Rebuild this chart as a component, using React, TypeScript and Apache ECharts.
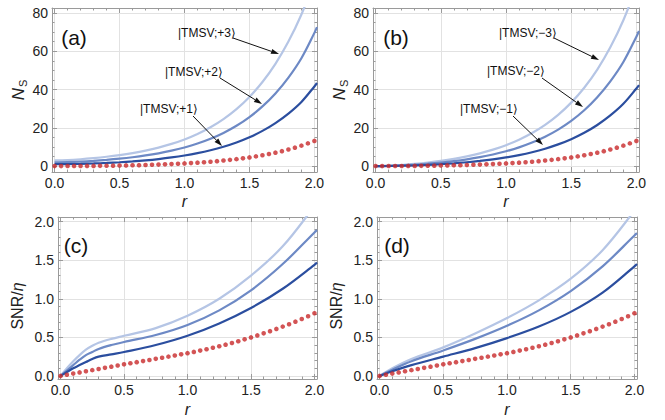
import React, { useEffect, useRef } from "react";
import * as echarts from "echarts";

// ---------- data ----------
const rLine = [0, 0.1, 0.2, 0.3, 0.4, 0.5, 0.6, 0.7, 0.8, 0.9, 1.0, 1.1, 1.2, 1.3, 1.4, 1.5, 1.6, 1.7, 1.8, 1.9, 2.0, 2.02];
const nsPlus1 = [1.0, 1.04, 1.159, 1.356, 1.632, 1.991, 2.44, 2.994, 3.672, 4.5, 5.51, 6.743, 8.245, 10.08, 12.319, 15.052, 18.389, 22.465, 27.442, 33.52, 41.6, 43.4];
const nsPlus2 = [2.0, 2.089, 2.34, 2.726, 3.231, 3.855, 4.617, 5.543, 6.671, 8.047, 9.724, 11.771, 14.271, 17.323, 21.051, 25.602, 31.162, 37.952, 46.245, 56.375, 69.6, 72.6];
const nsPlus3 = [3.0, 3.154, 3.561, 4.139, 4.857, 5.73, 6.791, 8.078, 9.657, 11.576, 13.924, 16.788, 20.286, 24.558, 29.775, 36.147, 43.93, 53.436, 65.045, 79.226, 96.5, 100.5];
const nsMinus1 = [0, 0.04, 0.159, 0.356, 0.632, 0.991, 1.44, 1.994, 2.672, 3.5, 4.51, 5.743, 7.245, 9.08, 11.319, 14.052, 17.389, 21.465, 26.442, 32.52, 40.5, 42.3];
const nsMinus2 = [0, 0.089, 0.34, 0.726, 1.231, 1.855, 2.617, 3.543, 4.671, 6.047, 7.724, 9.771, 12.271, 15.323, 19.051, 23.602, 29.162, 35.952, 44.245, 54.375, 67.6, 70.6];
const nsMinus3 = [0, 0.154, 0.561, 1.139, 1.857, 2.73, 3.791, 5.078, 6.657, 8.576, 10.924, 13.788, 17.286, 21.558, 26.775, 33.147, 40.93, 50.436, 62.045, 76.226, 93.5, 97.5];

const rDots = [0, 0.05, 0.1, 0.15, 0.2, 0.25, 0.3, 0.35, 0.4, 0.45, 0.5, 0.55, 0.6, 0.65, 0.7, 0.75, 0.8, 0.85, 0.9, 0.95, 1.0, 1.05, 1.1, 1.15, 1.2, 1.25, 1.3, 1.35, 1.4, 1.45, 1.5, 1.55, 1.6, 1.65, 1.7, 1.75, 1.8, 1.85, 1.9, 1.95, 2.0];
const nsTmsv = [0, 0.0025, 0.01, 0.0227, 0.0405, 0.0638, 0.0927, 0.1276, 0.1687, 0.2165, 0.2715, 0.3343, 0.4053, 0.4855, 0.5755, 0.6762, 0.7887, 0.9142, 1.0537, 1.2089, 1.3811, 1.5722, 1.784, 2.0186, 2.2785, 2.5661, 2.8845, 3.2367, 3.6264, 4.0573, 4.5338, 5.0608, 5.6433, 6.2874, 6.9994, 7.7864, 8.6564, 9.618, 10.6809, 11.8557, 13.1541];
const snrTmsv = [0, 0.015, 0.03, 0.045, 0.06, 0.075, 0.09, 0.105, 0.12, 0.135, 0.15, 0.164, 0.178, 0.192, 0.206, 0.221, 0.236, 0.25, 0.265, 0.28, 0.295, 0.311, 0.328, 0.346, 0.365, 0.385, 0.405, 0.427, 0.45, 0.474, 0.499, 0.525, 0.552, 0.58, 0.609, 0.639, 0.67, 0.703, 0.738, 0.774, 0.812];

const rSnrPlus = [0, 0.05, 0.1, 0.15, 0.2, 0.25, 0.3, 0.4, 0.5, 0.75, 1.0, 1.25, 1.5, 1.75, 2.0, 2.02];
const snrPlus3 = [0, 0.1, 0.19, 0.27, 0.34, 0.39, 0.43, 0.48, 0.52, 0.62, 0.78, 1.0, 1.3, 1.68, 2.2, 2.25];
const snrPlus2 = [0, 0.07, 0.14, 0.21, 0.27, 0.31, 0.35, 0.4, 0.44, 0.53, 0.66, 0.85, 1.11, 1.45, 1.86, 1.89];
const snrPlus1 = [0, 0.05, 0.1, 0.14, 0.18, 0.22, 0.25, 0.28, 0.31, 0.4, 0.52, 0.68, 0.88, 1.13, 1.44, 1.47];

const rSnrMinus = [0, 0.1, 0.25, 0.5, 0.75, 1.0, 1.25, 1.5, 1.75, 2.0, 2.02];
const snrMinus3 = [0, 0.1, 0.22, 0.37, 0.55, 0.75, 0.98, 1.26, 1.63, 2.14, 2.19];
const snrMinus2 = [0, 0.08, 0.19, 0.33, 0.48, 0.65, 0.85, 1.1, 1.42, 1.82, 1.85];
const snrMinus1 = [0, 0.06, 0.14, 0.25, 0.36, 0.49, 0.64, 0.83, 1.08, 1.42, 1.45];

const xTicks = [0, 0.5, 1, 1.5, 2];
const xMinor = [0.1, 0.2, 0.3, 0.4, 0.6, 0.7, 0.8, 0.9, 1.1, 1.2, 1.3, 1.4, 1.6, 1.7, 1.8, 1.9];
const nsTicks = [0, 20, 40, 60, 80];
const nsMinor = [5, 10, 15, 25, 30, 35, 45, 50, 55, 65, 70, 75];
const snrTicks = [0, 0.5, 1, 1.5, 2];
const snrMinor = [0.1, 0.2, 0.3, 0.4, 0.6, 0.7, 0.8, 0.9, 1.1, 1.2, 1.3, 1.4, 1.6, 1.7, 1.8, 1.9];

const labelsPlus = ["|TMSV;+3\u27E9", "|TMSV;+2\u27E9", "|TMSV;+1\u27E9"];
const labelsMinus = ["|TMSV;\u22123\u27E9", "|TMSV;\u22122\u27E9", "|TMSV;\u22121\u27E9"];
const panelNames = ["(a)", "(b)", "(c)", "(d)"];

// ---------- style ----------
const FONT = '"Liberation Sans", Arial, "DejaVu Sans", sans-serif';
const FRAME = "#9a9a9a";
const GRIDC = "#e2e2e2";
const LABEL = "#222";
const C1 = "#2b4e9f";
const C2 = "#6d89c5";
const C3 = "#b5c5e5";
const RED = "#c8292b";

const grids = [
  { left: 52, top: 8, width: 265, height: 164 },
  { left: 373, top: 8, width: 266, height: 164 },
  { left: 58, top: 217, width: 259, height: 162 },
  { left: 377, top: 217, width: 260, height: 162 },
];

const onGrid = (v: number, step: number) => Math.abs(v / step - Math.round(v / step)) < 1e-6;

function xAxesFor(g: number, nameGap: number) {
  const base = { type: "value", gridIndex: g, min: -0.02, max: 2.02 };
  const ls = { color: FRAME, width: 1 };
  return [
    {
      ...base, position: "bottom", splitNumber: 4,
      axisLine: { show: true, onZero: false, lineStyle: ls },
      axisTick: { show: true, inside: true, length: 5, customValues: xTicks, lineStyle: ls },
      axisLabel: {
        show: true, customValues: xTicks, margin: 4, color: LABEL, fontSize: 14, fontFamily: FONT,
        formatter: (v: number) => (onGrid(v, 0.5) ? v.toFixed(1) : ""),
      },
      splitLine: { show: true, lineStyle: { color: GRIDC, width: 1 } },
      name: "r", nameLocation: "middle", nameGap,
      nameTextStyle: { fontStyle: "italic", fontSize: 16, fontFamily: FONT, color: "#222" },
    },
    {
      ...base, position: "top",
      axisLine: { show: true, onZero: false, lineStyle: ls },
      axisTick: { show: true, inside: true, length: 5, customValues: xTicks, lineStyle: ls },
      axisLabel: { show: false }, splitLine: { show: false },
    },
    {
      ...base, position: "bottom",
      axisLine: { show: false, onZero: false },
      axisTick: { show: true, inside: true, length: 2.5, customValues: xMinor, lineStyle: ls },
      axisLabel: { show: false }, splitLine: { show: false },
    },
    {
      ...base, position: "top",
      axisLine: { show: false, onZero: false },
      axisTick: { show: true, inside: true, length: 2.5, customValues: xMinor, lineStyle: ls },
      axisLabel: { show: false }, splitLine: { show: false },
    },
  ];
}

function yAxesFor(g: number, kind: "ns" | "snr") {
  const ns = kind === "ns";
  const base = { type: "value", gridIndex: g, min: ns ? -3.1 : -0.04, max: ns ? 82.6 : 2.06 };
  const ticks = ns ? nsTicks : snrTicks;
  const minor = ns ? nsMinor : snrMinor;
  const ls = { color: FRAME, width: 1 };
  const name = ns ? "{i|N}{s|S}" : "{a|SNR/}{e|\u03B7}";
  return [
    {
      ...base, position: "left", splitNumber: 4,
      axisLine: { show: true, onZero: false, lineStyle: ls },
      axisTick: { show: true, inside: true, length: 5, customValues: ticks, lineStyle: ls },
      axisLabel: {
        show: true, customValues: ticks, margin: 4, color: LABEL, fontSize: 14, fontFamily: FONT,
        formatter: (v: number) =>
          ns ? (onGrid(v, 20) ? String(Math.round(v)) : "") : onGrid(v, 0.5) ? v.toFixed(1) : "",
      },
      splitLine: { show: true, lineStyle: { color: GRIDC, width: 1 } },
      name, nameLocation: "middle", nameRotate: 90, nameGap: ns ? 24 : 33,
      nameTextStyle: {
        color: "#222", fontFamily: FONT,
        padding: ns ? [0, 0, 0, 0] : [0, 16, 0, 0],
        rich: {
          i: { fontStyle: "italic", fontSize: 17, fontFamily: FONT, color: "#222" },
          s: { fontSize: 11, fontFamily: FONT, color: "#222", padding: [8, 0, 0, 1] },
          a: { fontSize: 16, fontFamily: FONT, color: "#222" },
          e: { fontSize: 16, fontStyle: "italic", fontFamily: FONT, color: "#222" },
        },
      },
    },
    {
      ...base, position: "right",
      axisLine: { show: true, onZero: false, lineStyle: ls },
      axisTick: { show: true, inside: true, length: 5, customValues: ticks, lineStyle: ls },
      axisLabel: { show: false }, splitLine: { show: false },
    },
    {
      ...base, position: "left",
      axisLine: { show: false, onZero: false },
      axisTick: { show: true, inside: true, length: 2.5, customValues: minor, lineStyle: ls },
      axisLabel: { show: false }, splitLine: { show: false },
    },
    {
      ...base, position: "right",
      axisLine: { show: false, onZero: false },
      axisTick: { show: true, inside: true, length: 2.5, customValues: minor, lineStyle: ls },
      axisLabel: { show: false }, splitLine: { show: false },
    },
  ];
}

function lineSeries(p: number, xs: number[], ys: number[], color: string) {
  return {
    type: "line", xAxisIndex: p * 4, yAxisIndex: p * 4,
    data: xs.map((x, i) => [x, ys[i]]),
    showSymbol: false, smooth: 0.35, clip: true,
    lineStyle: { color, width: 2.2 }, itemStyle: { color },
    z: 3,
  };
}
function dotSeries(p: number, ys: number[]) {
  return {
    type: "scatter", xAxisIndex: p * 4, yAxisIndex: p * 4,
    data: rDots.map((x, i) => [x, ys[i]]),
    symbolSize: 4.6, itemStyle: { color: RED }, clip: true, z: 4,
  };
}

// annotation geometry (pixels)
const annTexts = [
  { x: 178, y: 33 }, { x: 165, y: 72 }, { x: 140, y: 109 },
  { x: 499, y: 33 }, { x: 487, y: 71 }, { x: 460, y: 109 },
];
const annArrows = [
  [233, 38, 279, 54], [220, 78, 262, 104], [193, 116, 222, 146],
  [554, 38, 599, 60], [542, 78, 583, 107], [513, 116, 543, 145],
];
const panelPos = [
  { x: 74, y: 37 }, { x: 396, y: 37 }, { x: 76, y: 245 }, { x: 397, y: 245 },
];

function arrowEls(a: number[]) {
  const [x1, y1, x2, y2] = a;
  const dx = x2 - x1, dy = y2 - y1;
  const L = Math.hypot(dx, dy);
  const ux = dx / L, uy = dy / L;
  const hl = 8, hw = 2.6;
  const bx = x2 - ux * hl, by = y2 - uy * hl;
  return [
    { type: "line", z: 100, silent: true, shape: { x1, y1, x2: bx, y2: by }, style: { stroke: "#111", lineWidth: 1 } },
    {
      type: "polygon", z: 100, silent: true,
      shape: { points: [[x2, y2], [bx - uy * hw, by + ux * hw], [bx + uy * hw, by - ux * hw]] },
      style: { fill: "#111" },
    },
  ];
}

export default function App() {
  const ref = useRef<HTMLDivElement>(null);
  useEffect(() => {
    if (!ref.current) return;
    const chart = echarts.init(ref.current, undefined, { renderer: "svg" });

    const xAxis = [...xAxesFor(0, 21), ...xAxesFor(1, 21), ...xAxesFor(2, 22), ...xAxesFor(3, 22)];
    const yAxis = [...yAxesFor(0, "ns"), ...yAxesFor(1, "ns"), ...yAxesFor(2, "snr"), ...yAxesFor(3, "snr")];

    const series = [
      lineSeries(0, rLine, nsPlus3, C3), lineSeries(0, rLine, nsPlus2, C2), lineSeries(0, rLine, nsPlus1, C1), dotSeries(0, nsTmsv),
      lineSeries(1, rLine, nsMinus3, C3), lineSeries(1, rLine, nsMinus2, C2), lineSeries(1, rLine, nsMinus1, C1), dotSeries(1, nsTmsv),
      lineSeries(2, rSnrPlus, snrPlus3, C3), lineSeries(2, rSnrPlus, snrPlus2, C2), lineSeries(2, rSnrPlus, snrPlus1, C1), dotSeries(2, snrTmsv),
      lineSeries(3, rSnrMinus, snrMinus3, C3), lineSeries(3, rSnrMinus, snrMinus2, C2), lineSeries(3, rSnrMinus, snrMinus1, C1), dotSeries(3, snrTmsv),
    ];

    const labels = [...labelsPlus, ...labelsMinus];
    const graphic: any[] = [];
    labels.forEach((t, i) => {
      graphic.push({
        type: "text", z: 100, silent: true, x: annTexts[i].x, y: annTexts[i].y,
        style: { text: t, fontSize: 12, fontFamily: FONT, fill: "#111", verticalAlign: "middle", align: "left" },
      });
      graphic.push(...arrowEls(annArrows[i]));
    });
    panelNames.forEach((t, i) => {
      graphic.push({
        type: "text", z: 100, silent: true, x: panelPos[i].x, y: panelPos[i].y,
        style: { text: t, fontSize: 21, fontFamily: FONT, fill: "#111", align: "center", verticalAlign: "middle" },
      });
    });

    chart.setOption({
      animation: false,
      backgroundColor: "#ffffff",
      grid: grids.map((g) => ({ ...g, containLabel: false, outerBoundsMode: "none" })),
      xAxis, yAxis, series, graphic,
    } as any);
    return () => chart.dispose();
  }, []);
  return (
    <div
      ref={ref}
      style={{ position: "fixed", left: 0, top: 0, width: 665, height: 420, background: "#fff" }}
    />
  );
}
